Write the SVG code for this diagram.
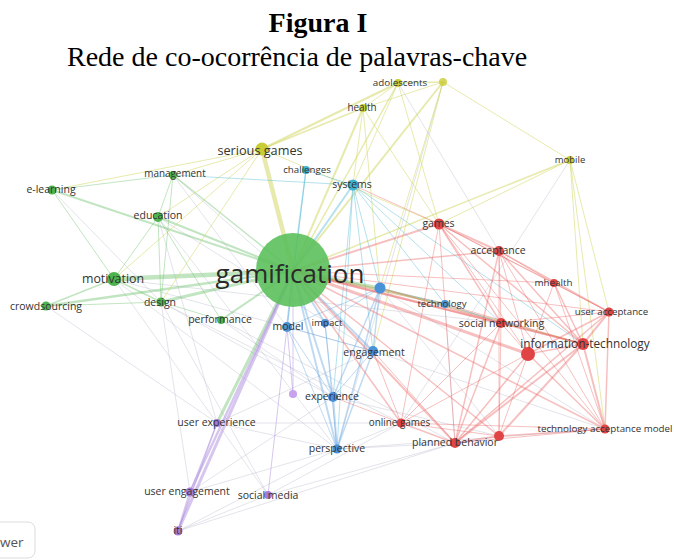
<svg xmlns="http://www.w3.org/2000/svg" width="674" height="560" viewBox="0 0 674 560">
<style>
.t{font-family:"Liberation Serif","Times New Roman",serif;fill:#000}
.l{font-family:"Open Sans","Noto Sans","DejaVu Sans",sans-serif;fill:#333;text-anchor:middle;font-size:10.5px}
line{stroke-linecap:round}
.eg{stroke:#6cc06c;stroke-opacity:.42}
.ey{stroke:#cfd55a;stroke-opacity:.5}
.ec{stroke:#58bcd8;stroke-opacity:.45}
.eb{stroke:#6aa6e0;stroke-opacity:.42}
.er{stroke:#ec6a6a;stroke-opacity:.42}
.ep{stroke:#b090e0;stroke-opacity:.5}
.ex{stroke:#b8bccc;stroke-opacity:.4}
.eo{stroke:#b4a860;stroke-opacity:.55}
.ng{fill:#4db34d}
.ny{fill:#c9cc34}
.nc{fill:#3fb2d0}
.nb{fill:#4a92d8}
.nr{fill:#e04444}
.np{fill:#a77ad8}
</style>
<rect width="674" height="560" fill="#fff"/>
<text class="t" x="318" y="32" font-size="28" font-weight="bold" text-anchor="middle">Figura I</text>
<text class="t" x="67" y="65.5" font-size="28">Rede de co-ocorrência de palavras-chave</text>

<g id="connectors" fill="none">
<line class="ex" x1="114" y1="279" x2="373" y2="351"/>
<line class="ex" x1="161" y1="302" x2="333" y2="397"/>
<line class="ex" x1="158" y1="217" x2="373" y2="351"/>
<line class="ex" x1="173" y1="175" x2="373" y2="351"/>
<line class="ex" x1="114" y1="279" x2="337" y2="449"/>
<line class="ex" x1="161" y1="302" x2="190" y2="492"/>
<line class="ex" x1="221" y1="320" x2="455" y2="443"/>
<line class="ex" x1="114" y1="279" x2="501" y2="323"/>
<line class="ex" x1="158" y1="217" x2="337" y2="449"/>
<line class="ex" x1="161" y1="302" x2="401" y2="423"/>
<line class="ex" x1="46" y1="306" x2="217" y2="423"/>
<line class="ex" x1="52" y1="190" x2="161" y2="302"/>
<line class="ex" x1="398" y1="83" x2="499" y2="251"/>
<line class="ex" x1="443" y1="82" x2="337" y2="449"/>
<line class="ex" x1="217" y1="423" x2="337" y2="449"/>
<line class="ex" x1="217" y1="423" x2="373" y2="351"/>
<line class="ex" x1="190" y1="492" x2="337" y2="449"/>
<line class="ex" x1="178" y1="531" x2="337" y2="449"/>
<line class="ex" x1="178" y1="531" x2="455" y2="443"/>
<line class="ex" x1="217" y1="423" x2="401" y2="423"/>
<line class="ex" x1="268" y1="495" x2="455" y2="443"/>
<line class="ex" x1="268" y1="495" x2="401" y2="423"/>
<line class="ex" x1="190" y1="492" x2="333" y2="397"/>
<line class="ex" x1="268" y1="495" x2="178" y2="531"/>
<line class="ex" x1="217" y1="423" x2="268" y2="495"/>
<line class="ex" x1="445" y1="304" x2="455" y2="443"/>
<line class="ex" x1="333" y1="397" x2="499" y2="436"/>
<line class="ex" x1="373" y1="351" x2="605" y2="429"/>
<line class="ex" x1="380" y1="288" x2="499" y2="436"/>
<line class="ex" x1="380" y1="288" x2="605" y2="429"/>
<line class="ex" x1="337" y1="449" x2="455" y2="443"/>
<line class="ex" x1="337" y1="449" x2="401" y2="423"/>
<line class="ex" x1="337" y1="449" x2="605" y2="429"/>
<line class="ex" x1="221" y1="320" x2="333" y2="397"/>
<line class="ex" x1="114" y1="279" x2="217" y2="423"/>
<line class="ex" x1="161" y1="302" x2="268" y2="495"/>
<line class="ex" x1="158" y1="217" x2="217" y2="423"/>
<line class="ex" x1="173" y1="175" x2="287" y2="327"/>
<!-- green -->
<line class="eg" x1="293" y1="271" x2="114" y2="279" stroke-width="4.5"/>
<line class="eg" x1="293" y1="271" x2="161" y2="302" stroke-width="3"/>
<line class="eg" x1="293" y1="271" x2="46" y2="306" stroke-width="2.5"/>
<line class="eg" x1="293" y1="271" x2="52" y2="190" stroke-width="2"/>
<line class="eg" x1="293" y1="271" x2="158" y2="217" stroke-width="2"/>
<line class="eg" x1="293" y1="271" x2="173" y2="175" stroke-width="1.5"/>
<line class="eg" x1="293" y1="271" x2="221" y2="320" stroke-width="2"/>
<line class="eg" x1="293" y1="271" x2="217" y2="423" stroke-width="3"/>
<line class="eg" x1="52" y1="190" x2="114" y2="279"/>
<line class="eg" x1="52" y1="190" x2="173" y2="175"/>
<line class="eg" x1="173" y1="175" x2="161" y2="302"/>
<line class="eg" x1="173" y1="175" x2="158" y2="217"/>
<line class="eg" x1="158" y1="217" x2="161" y2="302"/>
<line class="eg" x1="158" y1="217" x2="114" y2="279"/>
<line class="eg" x1="114" y1="279" x2="46" y2="306" stroke-width="1.5"/>
<line class="eg" x1="114" y1="279" x2="161" y2="302" stroke-width="1.5"/>
<line class="eg" x1="161" y1="302" x2="221" y2="320"/>
<line class="eg" x1="46" y1="306" x2="161" y2="302"/>
<line class="eg" x1="158" y1="217" x2="221" y2="320"/>
<!-- yellow -->
<line class="ey" x1="293" y1="271" x2="262" y2="149" stroke-width="4.5"/>
<line class="ey" x1="293" y1="271" x2="363" y2="108" stroke-width="2"/>
<line class="ey" x1="293" y1="271" x2="398" y2="83" stroke-width="1.5"/>
<line class="ey" x1="293" y1="271" x2="443" y2="82" stroke-width="2"/>
<line class="ey" x1="293" y1="271" x2="570" y2="160" stroke-width="1.5"/>
<line class="ey" x1="262" y1="149" x2="173" y2="175"/>
<line class="ey" x1="262" y1="149" x2="52" y2="190"/>
<line class="ey" x1="262" y1="149" x2="158" y2="217"/>
<line class="ey" x1="262" y1="149" x2="114" y2="279"/>
<line class="ey" x1="262" y1="149" x2="398" y2="83" stroke-width="2"/>
<line class="ey" x1="262" y1="149" x2="363" y2="108" stroke-width="1.5"/>
<line class="ey" x1="262" y1="149" x2="439" y2="224"/>
<line class="ey" x1="262" y1="149" x2="161" y2="302"/>
<line class="ey" x1="363" y1="108" x2="398" y2="83"/>
<line class="ey" x1="363" y1="108" x2="443" y2="82"/>
<line class="ey" x1="398" y1="83" x2="443" y2="82" stroke-width="1.5"/>
<line class="ey" x1="443" y1="82" x2="570" y2="160"/>
<line class="ey" x1="398" y1="83" x2="439" y2="224"/>
<line class="ey" x1="363" y1="108" x2="439" y2="224"/>
<line class="ey" x1="443" y1="82" x2="373" y2="351"/>
<line class="ey" x1="443" y1="82" x2="380" y2="288"/>
<line class="ey" x1="363" y1="108" x2="353" y2="185"/>
<line class="ey" x1="363" y1="108" x2="380" y2="288"/>
<line class="ey" x1="398" y1="83" x2="353" y2="185"/>
<line class="ey" x1="570" y1="160" x2="439" y2="224"/>
<line class="ey" x1="570" y1="160" x2="609" y2="312"/>
<line class="ey" x1="570" y1="160" x2="605" y2="429"/>
<line class="ex" x1="570" y1="160" x2="401" y2="423"/>
<line class="ey" x1="570" y1="160" x2="583" y2="344"/>
<!-- cyan -->
<line class="ec" x1="293" y1="271" x2="353" y2="185" stroke-width="2"/>
<line class="ec" x1="293" y1="271" x2="306" y2="170" stroke-width="1.5"/>
<line class="ec" x1="173" y1="175" x2="353" y2="185"/>
<line class="ec" x1="306" y1="170" x2="287" y2="327"/>
<line class="ec" x1="306" y1="170" x2="353" y2="185"/>
<line class="er" x1="353" y1="185" x2="439" y2="224"/>
<line class="ec" x1="353" y1="185" x2="445" y2="304"/>
<line class="ec" x1="353" y1="185" x2="501" y2="323"/>
<line class="ec" x1="353" y1="185" x2="583" y2="344"/>
<line class="ec" x1="353" y1="185" x2="373" y2="351"/>
<line class="ec" x1="353" y1="185" x2="333" y2="397"/>
<line class="ec" x1="353" y1="185" x2="380" y2="288"/>
<line class="ec" x1="353" y1="185" x2="337" y2="449"/>
<!-- blue -->
<line class="eg" x1="293" y1="271" x2="380" y2="288" stroke-width="3"/>
<line class="eb" x1="293" y1="271" x2="287" y2="327" stroke-width="2"/>
<line class="eb" x1="293" y1="271" x2="325" y2="323" stroke-width="2"/>
<line class="eb" x1="293" y1="271" x2="373" y2="351" stroke-width="2"/>
<line class="eb" x1="293" y1="271" x2="333" y2="397" stroke-width="2"/>
<line class="eb" x1="293" y1="271" x2="337" y2="449" stroke-width="2"/>
<line class="eo" x1="293" y1="271" x2="445" y2="304" stroke-width="2.5"/>
<line class="eb" x1="380" y1="288" x2="287" y2="327"/>
<line class="eb" x1="380" y1="288" x2="325" y2="323"/>
<line class="eb" x1="380" y1="288" x2="373" y2="351" stroke-width="1.5"/>
<line class="eb" x1="380" y1="288" x2="333" y2="397" stroke-width="1.5"/>
<line class="eb" x1="380" y1="288" x2="337" y2="449" stroke-width="1.5"/>
<line class="eb" x1="380" y1="288" x2="445" y2="304"/>
<line class="eb" x1="287" y1="327" x2="333" y2="397"/>
<line class="eb" x1="287" y1="327" x2="337" y2="449"/>
<line class="eb" x1="287" y1="327" x2="373" y2="351"/>
<line class="eb" x1="325" y1="323" x2="337" y2="449"/>
<line class="eb" x1="325" y1="323" x2="333" y2="397"/>
<line class="eb" x1="373" y1="351" x2="337" y2="449" stroke-width="1.5"/>
<line class="eb" x1="373" y1="351" x2="333" y2="397"/>
<line class="eb" x1="333" y1="397" x2="337" y2="449" stroke-width="2"/>
<line class="ep" x1="287" y1="327" x2="293" y2="394"/>
<line class="er" x1="380" y1="288" x2="501" y2="323"/>
<line class="eo" x1="380" y1="288" x2="583" y2="344" stroke-width="1.5"/>
<line class="eb" x1="445" y1="304" x2="501" y2="323"/>
<!-- purple -->
<line class="ep" x1="293" y1="271" x2="178" y2="531" stroke-width="3"/>
<line class="ep" x1="293" y1="271" x2="190" y2="492" stroke-width="2.5"/>
<line class="ep" x1="217" y1="423" x2="178" y2="531" stroke-width="1.5"/>
<line class="ep" x1="190" y1="492" x2="178" y2="531" stroke-width="2"/>
<line class="ep" x1="217" y1="423" x2="190" y2="492"/>
<line class="ep" x1="268" y1="495" x2="287" y2="327"/>
<line class="ep" x1="293" y1="271" x2="293" y2="394"/>
<!-- red -->
<line class="er" x1="293" y1="271" x2="439" y2="224" stroke-width="2"/>
<line class="er" x1="293" y1="271" x2="501" y2="323" stroke-width="2.5"/>
<line class="er" x1="293" y1="271" x2="528" y2="354" stroke-width="3"/>
<line class="er" x1="293" y1="271" x2="583" y2="344" stroke-width="1.5"/>
<line class="er" x1="293" y1="271" x2="499" y2="251" stroke-width="1.5"/>
<line class="er" x1="293" y1="271" x2="554" y2="283"/>
<line class="er" x1="293" y1="271" x2="609" y2="312"/>
<line class="er" x1="293" y1="271" x2="605" y2="429" stroke-width="1.5"/>
<line class="er" x1="293" y1="271" x2="455" y2="443" stroke-width="2"/>
<line class="er" x1="293" y1="271" x2="499" y2="436" stroke-width="1.5"/>
<line class="er" x1="293" y1="271" x2="401" y2="423" stroke-width="1.5"/>
<line class="er" x1="439" y1="224" x2="499" y2="251" stroke-width="2"/>
<line class="er" x1="439" y1="224" x2="501" y2="323" stroke-width="1.5"/>
<line class="er" x1="439" y1="224" x2="583" y2="344" stroke-width="1.5"/>
<line class="er" x1="439" y1="224" x2="528" y2="354"/>
<line class="er" x1="439" y1="224" x2="455" y2="443"/>
<line class="er" x1="439" y1="224" x2="605" y2="429"/>
<line class="er" x1="439" y1="224" x2="554" y2="283"/>
<line class="er" x1="439" y1="224" x2="609" y2="312"/>
<line class="er" x1="439" y1="224" x2="401" y2="423"/>
<line class="er" x1="499" y1="251" x2="554" y2="283"/>
<line class="er" x1="499" y1="251" x2="609" y2="312" stroke-width="1.5"/>
<line class="er" x1="499" y1="251" x2="583" y2="344" stroke-width="1.5"/>
<line class="er" x1="499" y1="251" x2="501" y2="323"/>
<line class="er" x1="499" y1="251" x2="605" y2="429"/>
<line class="er" x1="499" y1="251" x2="455" y2="443" stroke-width="1.5"/>
<line class="er" x1="499" y1="251" x2="528" y2="354"/>
<line class="er" x1="499" y1="251" x2="499" y2="436"/>
<line class="er" x1="554" y1="283" x2="609" y2="312"/>
<line class="er" x1="554" y1="283" x2="583" y2="344" stroke-width="1.5"/>
<line class="er" x1="554" y1="283" x2="605" y2="429"/>
<line class="er" x1="554" y1="283" x2="528" y2="354"/>
<line class="er" x1="609" y1="312" x2="583" y2="344" stroke-width="2"/>
<line class="er" x1="609" y1="312" x2="605" y2="429" stroke-width="1.5"/>
<line class="er" x1="609" y1="312" x2="528" y2="354" stroke-width="1.5"/>
<line class="er" x1="609" y1="312" x2="455" y2="443" stroke-width="1.5"/>
<line class="er" x1="609" y1="312" x2="501" y2="323"/>
<line class="er" x1="501" y1="323" x2="583" y2="344" stroke-width="1.5"/>
<line class="er" x1="501" y1="323" x2="528" y2="354"/>
<line class="er" x1="501" y1="323" x2="455" y2="443" stroke-width="1.5"/>
<line class="er" x1="501" y1="323" x2="401" y2="423"/>
<line class="er" x1="501" y1="323" x2="499" y2="436"/>
<line class="er" x1="583" y1="344" x2="605" y2="429" stroke-width="2"/>
<line class="er" x1="583" y1="344" x2="455" y2="443" stroke-width="2"/>
<line class="er" x1="583" y1="344" x2="499" y2="436" stroke-width="2"/>
<line class="er" x1="583" y1="344" x2="528" y2="354" stroke-width="1.5"/>
<line class="er" x1="528" y1="354" x2="455" y2="443" stroke-width="1.5"/>
<line class="er" x1="528" y1="354" x2="401" y2="423"/>
<line class="er" x1="528" y1="354" x2="605" y2="429" stroke-width="1.5"/>
<line class="er" x1="528" y1="354" x2="499" y2="436"/>
<line class="er" x1="455" y1="443" x2="499" y2="436" stroke-width="2"/>
<line class="er" x1="455" y1="443" x2="605" y2="429"/>
<line class="er" x1="455" y1="443" x2="401" y2="423" stroke-width="1.5"/>
<line class="er" x1="401" y1="423" x2="605" y2="429"/>
<line class="er" x1="401" y1="423" x2="499" y2="436"/>
<line class="er" x1="499" y1="436" x2="605" y2="429" stroke-width="1.5"/>
<line class="er" x1="373" y1="351" x2="455" y2="443"/>
<line class="er" x1="373" y1="351" x2="401" y2="423"/>
<line class="er" x1="333" y1="397" x2="401" y2="423"/>
<line class="er" x1="445" y1="304" x2="583" y2="344"/>
</g>

<g id="node-gamification"><circle class="ng" cx="293" cy="270" r="37" fill-opacity=".9" style="fill:#5cc05c"/><text class="l" x="290" y="283" style="font-size:26px;fill:#2a2a2a">gamification</text></g>
<g id="node-motivation"><circle class="ng" cx="114" cy="279" r="7"/><text class="l" x="113" y="283" style="font-size:12.4px">motivation</text></g>
<g id="node-crowdsourcing"><circle class="ng" cx="46" cy="306" r="4.5"/><text class="l" x="46" y="309.5">crowdsourcing</text></g>
<g id="node-design"><circle class="ng" cx="161" cy="302" r="4.5"/><text class="l" x="160" y="305.5">design</text></g>
<g id="node-performance"><circle class="ng" cx="221" cy="320" r="4"/><text class="l" x="220" y="322.5">performance</text></g>
<g id="node-e-learning"><circle class="ng" cx="52" cy="190" r="4.5"/><text class="l" x="51" y="193">e-learning</text></g>
<g id="node-management"><circle class="ng" cx="173" cy="175" r="4"/><text class="l" x="175" y="177" style="font-size:9.9px">management</text></g>
<g id="node-education"><circle class="ng" cx="158" cy="217" r="5"/><text class="l" x="158" y="219">education</text></g>
<g id="node-serious-games"><circle class="ny" cx="262" cy="149" r="6.5"/><text class="l" x="260" y="155" style="font-size:12.7px">serious games</text></g>
<g id="node-adolescents"><circle class="ny" cx="398" cy="83" r="4"/><text class="l" x="400" y="86" style="font-size:9.8px">adolescents</text></g>
<g id="node-y2"><circle class="ny" cx="443" cy="82" r="4" fill-opacity=".8"/></g>
<g id="node-health"><circle class="ny" cx="363" cy="108" r="4"/><text class="l" x="362" y="110.5" style="font-size:9.9px">health</text></g>
<g id="node-mobile"><circle class="ny" cx="570" cy="160" r="4"/><text class="l" x="570" y="162.5" style="font-size:9.5px">mobile</text></g>
<g id="node-challenges"><circle class="nc" cx="306" cy="170" r="4"/><text class="l" x="307" y="172.5" style="font-size:9.7px">challenges</text></g>
<g id="node-systems"><circle class="nc" cx="353" cy="185" r="5.5"/><text class="l" x="352" y="187.5">systems</text></g>
<g id="node-b1"><circle class="nb" cx="380" cy="288" r="5.5"/></g>
<g id="node-technology"><circle class="nb" cx="445" cy="304" r="4"/><text class="l" x="442" y="306.5" style="font-size:9.6px">technology</text></g>
<g id="node-model"><circle class="nb" cx="287" cy="327" r="5"/><text class="l" x="288" y="329.5">model</text></g>
<g id="node-impact"><circle class="nb" cx="325" cy="323" r="4"/><text class="l" x="327" y="325.5" style="font-size:9.7px">impact</text></g>
<g id="node-engagement"><circle class="nb" cx="373" cy="351" r="5"/><text class="l" x="374" y="355.5">engagement</text></g>
<g id="node-experience"><circle class="nb" cx="333" cy="397" r="5"/><text class="l" x="332" y="400">experience</text></g>
<g id="node-perspective"><circle class="nb" cx="337" cy="449" r="4.5"/><text class="l" x="337" y="451.5">perspective</text></g>
<g id="node-p1"><circle class="np" cx="293" cy="394" r="4" style="fill:#c8a2ec"/></g>
<g id="node-user-experience"><circle class="np" cx="217" cy="423" r="4"/><text class="l" x="216.5" y="425.5">user experience</text></g>
<g id="node-user-engagement"><circle class="np" cx="190" cy="492" r="4.5"/><text class="l" x="187" y="494.5">user engagement</text></g>
<g id="node-social-media"><circle class="np" cx="268" cy="495" r="4"/><text class="l" x="268" y="498.5">social media</text></g>
<g id="node-iti"><circle class="np" cx="178" cy="531" r="4.5"/><text class="l" x="178" y="534">iti</text></g>
<g id="node-games"><circle class="nr" cx="439" cy="224" r="5.5"/><text class="l" x="438.5" y="226.5">games</text></g>
<g id="node-acceptance"><circle class="nr" cx="499" cy="251" r="5"/><text class="l" x="498" y="253.5">acceptance</text></g>
<g id="node-mhealth"><circle class="nr" cx="554" cy="283" r="4"/><text class="l" x="553.5" y="286" style="font-size:9.8px">mhealth</text></g>
<g id="node-user-acceptance"><circle class="nr" cx="609" cy="312" r="4.5"/><text class="l" x="611.5" y="315" style="font-size:9.7px">user acceptance</text></g>
<g id="node-social-networking"><circle class="nr" cx="501" cy="323" r="5"/><text class="l" x="501.5" y="326.5">social networking</text></g>
<g id="node-r1"><circle class="nr" cx="528" cy="354" r="7"/></g>
<g id="node-information-technology"><circle class="nr" cx="583" cy="344" r="6"/><text class="l" x="585" y="347.5" style="font-size:11.8px">information-technology</text></g>
<g id="node-online-games"><circle class="nr" cx="401" cy="423" r="4.5"/><text class="l" x="399.5" y="426" style="font-size:9.9px">online games</text></g>
<g id="node-r2"><circle class="nr" cx="499" cy="436" r="5"/></g>
<g id="node-planned-behavior"><circle class="nr" cx="455" cy="443" r="5"/><text class="l" x="455" y="446">planned behavior</text></g>
<g id="node-technology-acceptance-model"><circle class="nr" cx="605" cy="429" r="4.5"/><text class="l" x="605" y="431.5" style="font-size:9.75px">technology acceptance model</text></g>

<g id="legend-box"><rect x="-20" y="522" width="55" height="36" rx="7" fill="#fff" stroke="#dcdcdc"/><text x="0" y="547" style="font-family:'Open Sans','DejaVu Sans',sans-serif;font-size:13.5px;fill:#555">wer</text></g>
</svg>
